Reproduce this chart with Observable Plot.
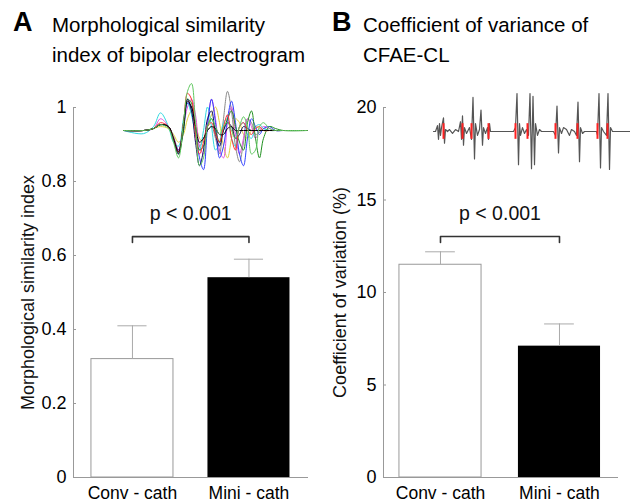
<!DOCTYPE html>
<html><head><meta charset="utf-8">
<script src="https://cdn.jsdelivr.net/npm/d3@7"></script>
<script src="https://cdn.jsdelivr.net/npm/@observablehq/plot@0.6"></script>
<style>
html,body{margin:0;padding:0;background:#fff;}
#wrap{position:relative;width:630px;height:502px;overflow:hidden;font-family:"Liberation Sans",Arial,sans-serif;color:#000;background:#fff;}
.abs{position:absolute;}
.letter{font-weight:bold;font-size:27px;line-height:27px;white-space:nowrap;}
.title{font-size:20.5px;line-height:30px;white-space:nowrap;}
svg{overflow:visible;}
</style></head><body><div id="wrap"></div>
<script>
// ---------- data ----------
const categories = ["Conv - cath", "Mini - cath"];
const msiMean = [0.32, 0.54];
const msiErr = [0.09, 0.05];
const cvMean = [11.5, 7.1];
const cvErr = [0.7, 1.2];
const msiTicks = [0, 0.2, 0.4, 0.6, 0.8, 1];
const msiTickLabels = ["0", "0.2", "0.4", "0.6", "0.8", "1"];
const cvTicks = [0, 5, 10, 15, 20];
const cvTickLabels = ["0", "5", "10", "15", "20"];
const pLabel = "p < 0.001";
const msiBracket = [0.635, 0.651, 0.713];   // bracket foot, bracket bar, p-label
const cvBracket = [12.7, 13.03, 14.27];
const titlesA = ["Morphological similarity", "index of bipolar electrogram"];
const titlesB = ["Coefficient of variance of", "CFAE-CL"];
const yLabelA = "Morphological similarity index";
const yLabelB = "Coefficient of variation (%)";

// inset A: superimposed bipolar electrograms (sample times and amplitudes)
const egmT = [0,20,30,37,45,50,55,60,64,68,72,76,80,84,88,92,96,100,104,108,112,116,120,124,128,132,136,140,146,152,160,184];
const egmGreen  = [0,0,0.05,0.15,0.05,-0.3,-0.7,0.2,1.0,1.2,0.2,-0.9,-0.7,0.1,0.3,0.1,-0.1,0.1,0.2,0.0,-0.2,0.1,0.35,0.1,-0.6,-0.5,0.1,0.2,0.05,0,0,0];
const egmRed    = [0,0,0.05,0.2,0.1,-0.2,-0.55,0.2,0.95,0.8,-0.1,-0.6,-0.3,0.1,0.2,-0.1,-0.3,0.1,0.4,-0.2,-0.5,0.1,0.2,0.0,-0.1,0.05,0.1,0,0,0,0,0];
const egmCyan   = [0,-0.08,0.1,0.45,0.1,-0.3,-0.4,0.3,0.7,0.4,-0.1,-0.5,0.0,0.6,0.1,-0.5,-0.3,0.2,0.3,-0.2,-0.4,0.1,0.2,-0.1,-0.2,0.1,0.15,0.05,0,0,0,0];
const egmMagenta= [0,0,0.05,0.3,0.1,-0.2,-0.5,0.1,0.6,0.8,0.4,-0.4,-0.6,0.2,0.8,0.3,-0.5,-0.7,0.2,0.6,-0.1,-0.6,-0.2,0.3,0.1,-0.2,0.0,0.1,0.05,0,0,0];
const egmBlue   = [0,0,0.05,0.15,0.1,-0.2,-0.5,0.0,0.7,0.6,0.0,-0.7,-1.0,0.1,0.8,0.2,-0.7,-0.4,0.3,0.75,0.2,-0.6,-0.9,-0.2,0.3,0.1,-0.1,0.05,0.1,0,0,0];
const egmNavy   = [0,0,0.05,0.15,0.1,-0.25,-0.6,0.2,0.8,0.5,-0.3,-0.9,-0.5,0.3,0.5,-0.1,-0.4,0.0,0.2,0.1,-0.2,-0.1,0.1,0.05,0,0,0,0,0,0,0,0];
const egmYellow = [0,0,0.05,0.1,0.05,-0.1,-0.3,-0.1,0.3,0.5,0.2,-0.2,-0.3,0.1,0.4,0.6,0.2,-0.4,-0.7,-0.2,0.3,0.2,-0.1,-0.2,0.0,0.1,0.05,0,0,0,0,0];
const egmGray   = [0,0,0.05,0.15,0.1,-0.15,-0.5,0.1,0.7,0.5,0.0,-0.4,-0.2,0.0,0.1,-0.2,-0.6,0.3,1.0,0.5,-0.4,-0.8,-0.3,0.3,0.2,-0.1,-0.05,0.05,0,0,0,0];
const egmBlack  = [0,0,0.05,0.15,0.1,-0.2,-0.55,0.1,0.75,0.6,0.1,-0.3,-0.2,0.0,0.1,0.05,-0.1,-0.1,0.05,0.1,0,0,0,0,0,0,0,0,0,0,0,0];
const egmDkGreen= [0,0,0.05,0.15,0.1,-0.25,-0.6,0.0,0.8,0.7,0.0,-0.5,-0.4,0.1,0.3,0.0,-0.3,0.0,0.3,0.5,0.1,-0.3,-0.5,0.2,0.5,-0.2,-0.7,-0.2,0.1,0.05,0,0];

// inset B: CFAE recording (times, amplitudes) and detected activation marks
const cfaeT = [0,2,4,5,6,7,8,10,11,12,14,16,19,22,25,27,28,29,30,31,33,36,38,39.5,41,42,44,46,47.5,49,50,52,54,55,56,57,80,82,83.5,85,86,87,89,91,93,95,96.5,98,99.5,101,102,104,106,108,120,122,123.5,125,126,128,130,133,136,138,141,143,144.5,146,147,149,151,163,164,165.5,167,168,170,173,174.5,176,177,179,197];
const cfaeV = [0,0,0.15,-0.2,0.2,-0.1,0.1,0.35,-0.3,0.05,0,0.05,-0.05,0.05,0,0.25,-0.2,0.4,-0.35,0.1,-0.05,0.1,-0.2,0.87,-0.7,0.2,-0.1,0.05,0.55,-0.35,0.1,-0.05,0.1,-0.2,0.2,0,0,0.1,0.97,-0.85,0.2,-0.1,0.1,-0.05,0.05,-0.1,0.97,-0.95,0.9,-0.85,0.2,-0.1,0.05,0,0,-0.1,0.65,-0.55,0.1,-0.05,0.1,0.05,-0.1,0.05,0,-0.1,0.75,-0.77,0.1,-0.05,0,0,-0.1,0.97,-0.93,0.1,0,-0.1,0.97,-0.97,0.1,0,0];
const cfaeMarks = [10,29,38,55,82,94,122,144,164,174];

// ---------- layout ----------
const wrap = document.getElementById("wrap");
function place(el, left, top) { el.classList.add("abs"); el.style.left = left + "px"; el.style.top = top + "px"; wrap.appendChild(el); return el; }
function div(cls, html) { const d = document.createElement("div"); d.className = cls; d.innerHTML = html; return d; }

place(div("letter", "A"), 13, 9);
place(div("title", titlesA.join("<br>")), 52, 10);
place(div("letter", "B"), 332, 9);
place(div("title", titlesB.join("<br>")), 363, 10);

const FONT = "'Liberation Sans', Arial, sans-serif";
const AXIS = "#999";

function panel(o) {
  const data = categories.map((c, i) => ({i, c, mean: o.means[i], err: o.errs[i]}));
  const W = 315, H = 412, mt = 17, mb = 25;
  const frameW = W - o.ml - o.mr;
  const capHalf = 0.125;
  return Plot.plot({
    width: W, height: H, marginTop: mt, marginBottom: mb, marginLeft: o.ml, marginRight: o.mr,
    style: {fontFamily: FONT, fontSize: "18px", color: "#000", background: "transparent", overflow: "visible"},
    x: {type: "linear", domain: o.xDomain},
    y: {domain: [0, o.ticks[o.ticks.length - 1]]},
    marks: [
      Plot.rect(data.filter(d => d.i === 0), {x1: d => d.i - o.halfW, x2: d => d.i + o.halfW, y1: 0, y2: "mean", fill: "white", stroke: "#999", strokeWidth: 1}),
      Plot.rect(data.filter(d => d.i === 1), {x1: d => d.i - o.halfW, x2: d => d.i + o.halfW, y1: 0, y2: "mean", fill: "black"}),
      Plot.ruleX(data, {x: "i", y1: "mean", y2: d => d.mean + d.err, stroke: "#aaa", strokeWidth: 1}),
      Plot.ruleY(data, {y: d => d.mean + d.err, x1: d => d.i - capHalf, x2: d => d.i + capHalf, stroke: "#aaa", strokeWidth: 1}),
      Plot.line([
        {x: 0, y: o.bracket[0]}, {x: 0, y: o.bracket[1]}, {x: 1, y: o.bracket[1]}, {x: 1, y: o.bracket[0]}
      ], {x: "x", y: "y", stroke: "#333", strokeWidth: 1.6}),
      Plot.text([pLabel], {x: 0.5, y: o.bracket[2], fontSize: 19.5, lineAnchor: "middle", fill: "#111"}),
      Plot.ruleY([0], {stroke: AXIS}),
      Plot.ruleX([o.xDomain[0]], {y1: 0, y2: o.ticks[o.ticks.length - 1], stroke: AXIS}),
      Plot.ruleY(o.ticks, {insetRight: frameW - 3, stroke: AXIS}),
      Plot.axisY({ticks: o.ticks, tickFormat: d => o.tickLabels[o.ticks.indexOf(d)], tickSize: 0, tickPadding: 7, label: null, fontSize: 18}),
      Plot.axisX({ticks: [0, 1], tickFormat: i => categories[i], tickSize: 0, tickPadding: 9, label: null, fontSize: 17.5}),
      Plot.text([o.yLabel], {frameAnchor: "left", textAnchor: "middle", lineAnchor: "middle", dx: o.yLabelDx, rotate: -90, fontSize: 18, fill: "#111"})
    ]
  });
}

const plotA = panel({means: msiMean, errs: msiErr, ticks: msiTicks, tickLabels: msiTickLabels, bracket: msiBracket,
  xDomain: [-0.506, 1.511], halfW: 0.352, ml: 73, mr: 7, yLabel: yLabelA, yLabelDx: -45});
place(plotA, 0, 90);

const plotB = panel({means: cvMean, errs: cvErr, ticks: cvTicks, tickLabels: cvTickLabels, bracket: cvBracket,
  xDomain: [-0.479, 1.496], halfW: 0.345, ml: 68, mr: 12, yLabel: yLabelB, yLabelDx: -43});
place(plotB, 315, 90);

// inset A
const egmTraces = [
  [egmYellow, "#e0d040"], [egmGray, "#888"], [egmMagenta, "#e050e0"], [egmCyan, "#30d8e0"],
  [egmBlue, "#3040ff"], [egmDkGreen, "#209020"], [egmNavy, "#101060"], [egmRed, "#ff3030"],
  [egmBlack, "#000"], [egmGreen, "#60c860"]
];
const insetA = Plot.plot({
  width: 184, height: 90, margin: 0,
  x: {domain: [0, 184], axis: null}, y: {domain: [-1.15, 1.15], axis: null},
  style: {background: "transparent", overflow: "visible"},
  marks: egmTraces.map(([vals, col]) =>
    Plot.line(egmT.map((t, k) => ({t, v: vals[k]})), {x: "t", y: "v", stroke: col, strokeWidth: 1, curve: "catmull-rom"}))
});
place(insetA, 123, 85);

// inset B
const insetB = Plot.plot({
  width: 197, height: 90, margin: 0,
  x: {domain: [0, 197], axis: null}, y: {domain: [-1.15, 1.15], axis: null},
  style: {background: "transparent", overflow: "visible"},
  marks: [
    Plot.line(cfaeT.map((t, k) => ({t, v: cfaeV[k]})), {x: "t", y: "v", stroke: "#555", strokeWidth: 1.2}),
    Plot.ruleX(cfaeMarks, {y1: -0.2, y2: 0.2, stroke: "#ff2020", strokeWidth: 2})
  ]
});
place(insetB, 433, 86);
</script></body></html>
